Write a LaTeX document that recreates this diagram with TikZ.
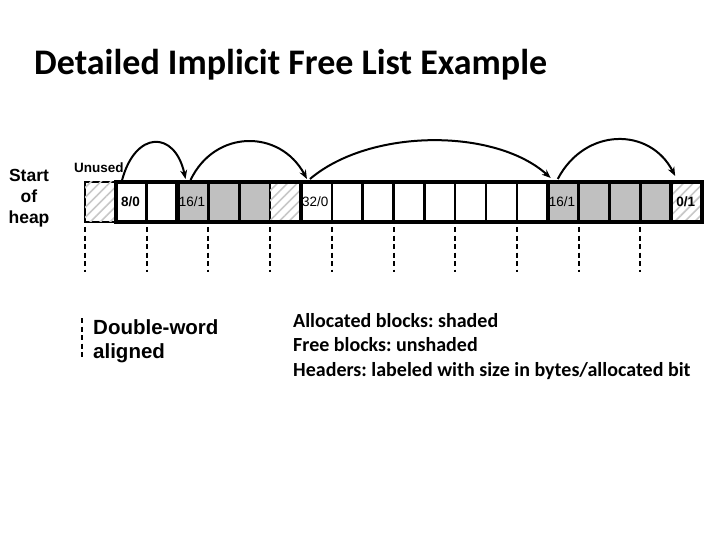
\documentclass[tikz,border=0pt]{standalone}
\usepackage{fontspec}
\setmainfont{Liberation Sans}
\newfontfamily\calfont{Carlito}
\usetikzlibrary{arrows.meta,patterns.meta,calc}
\definecolor{alloc}{RGB}{192,192,192}
\definecolor{hatchc}{RGB}{200,200,200}
\frenchspacing
\begin{document}
\begin{tikzpicture}[x=1pt,y=-1pt,
  cell/.style={draw=black,line width=2.5pt,minimum width=30.85pt,minimum height=40pt,
    inner sep=0pt,outer sep=0pt,anchor=north west},
  freecell/.style={cell,fill=white},
  alloccell/.style={cell,fill=alloc},
  hatchcell/.style={cell,fill=white,postaction={pattern={Lines[angle=45,distance=7pt,line width=1.6pt]},pattern color=hatchc}},
  thickline/.style={line width=4.5pt},
  guide/.style={line width=2pt,dash pattern=on 5pt off 3.5pt},
  link/.style={line width=2pt,-{Stealth[length=9pt,width=7pt]}},
  hdr/.style={anchor=base west,font=\fontsize{13.5}{15}\selectfont,inner sep=0pt},
  lbl/.style={font=\bfseries\fontsize{17.5}{21}\selectfont,align=center,inner sep=0pt}
]
\useasboundingbox (0,0) rectangle (720,540);
\fill[white] (0,0) rectangle (720,540);

% title
\node[anchor=base west,inner sep=0pt,font=\calfont\bfseries\fontsize{36}{42}\selectfont] (title) at (34,75) {Detailed Implicit Free List Example};

% cells
\foreach \i/\s in {0/hatchcell,1/freecell,2/freecell,3/alloccell,4/alloccell,5/alloccell,6/hatchcell,
  7/freecell,8/freecell,9/freecell,10/freecell,11/freecell,12/freecell,13/freecell,14/freecell,
  15/alloccell,16/alloccell,17/alloccell,18/alloccell,19/hatchcell}
  \node[\s] (c\i) at ({85+30.85*\i},182) {};

% thick block borders
\draw[thickline] (c1.north west) rectangle (c19.south east);
\foreach \i in {3,7,15,19}
  \draw[thickline] (c\i.north west) -- (c\i.south west);

% headers
\node[hdr,font=\bfseries\fontsize{13.5}{15}\selectfont] (h1) at ($(c1.west)+(5,5)$) {8/0};
\node[hdr] (h3) at ($(c3.west)+(1,5)$) {16/1};
\node[hdr] (h7) at ($(c7.west)+(1,5)$) {32/0};
\node[hdr] (h15) at ($(c15.west)+(1,5)$) {16/1};
\node[hdr,font=\bfseries\fontsize{13.5}{15}\selectfont] (h19) at ($(c19.west)+(5,5)$) {0/1};

% labels
\node[lbl] (start) at (29,198) {Start\\of\\heap};
\node[anchor=base west,inner sep=0pt,font=\bfseries\fontsize{13.5}{15}\selectfont] (unused) at (74,173) {Unused};

% links
\draw[link] ($(c1.north west)+(6,-1)$) .. controls (135,130) and (175,130) .. ($(c3.north west)+(8,-3)$);
\draw[link] ($(c3.north west)+(13,-2)$) .. controls (215,129) and (280,129) .. ($(c7.north west)+(6,-3)$);
\draw[link] ($(c7.north west)+(9,-3)$) .. controls (370,128) and (495,128) .. ($(c15.north west)+(3,-4)$);
\draw[link] ($(c15.north west)+(10,-3)$) .. controls (585,127) and (650,127) .. ($(c19.north west)+(4,-6)$);

% double-word guides
\foreach \i in {0,2,4,6,8,10,12,14,16,18}
  \draw[guide] ($(c\i.south west)+(0,5)$) -- ++(0,45);

% legend
\coordinate (dw) at (82,318);
\draw[guide] (dw) -- ++(0,40);
\node[anchor=north west,inner sep=0pt,align=left,font=\bfseries\fontsize{20.5}{24}\selectfont] (dwtext) at (93,319) {Double-word\\aligned};
\node[anchor=north west,inner sep=0pt,align=left,font=\calfont\bfseries\fontsize{20}{24.5}\selectfont] (legend) at (293,313) {Allocated blocks: shaded\\Free blocks: unshaded\\Headers: labeled with size in bytes/allocated bit};
\end{tikzpicture}
\end{document}
